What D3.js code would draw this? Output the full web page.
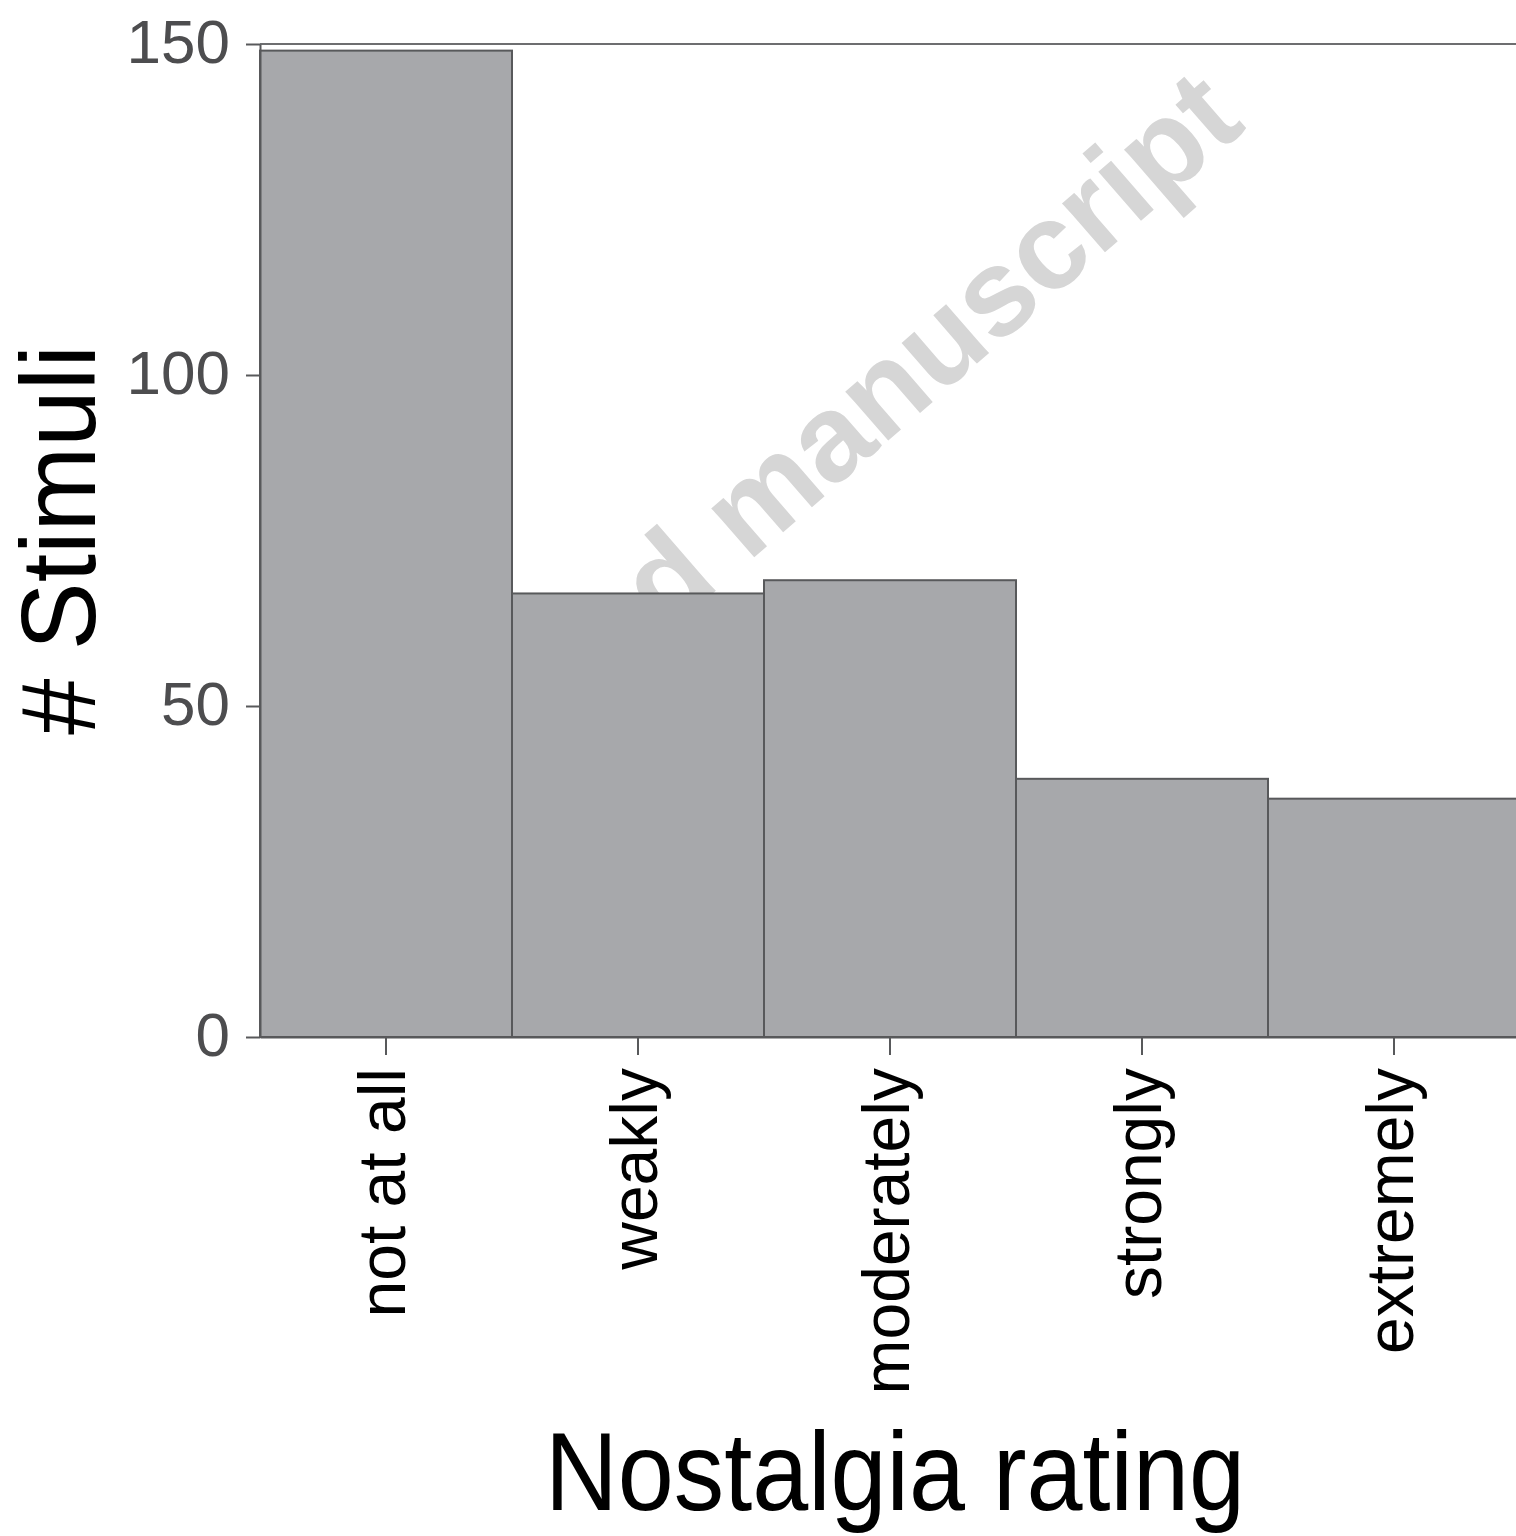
<!DOCTYPE html>
<html><head><meta charset="utf-8">
<script src="https://cdn.jsdelivr.net/npm/d3@7"></script>
<style>html,body{margin:0;padding:0;background:#fff;}svg{display:block;}</style>
</head><body>
<script>
const categories = ["not at all", "weakly", "moderately", "strongly", "extremely"];
const counts = [149, 67, 69, 39, 36];
const yTicks = [0, 50, 100, 150];
const xTitle = "Nostalgia rating";
const yTitle = "# Stimuli";
const watermark = "Accepted manuscript";

const W = 1516, H = 1536;
const m = {left: 260, right: -4, top: 44, bottom: 499};
const svg = d3.select("body").append("svg").attr("width", W).attr("height", H);

const x = d3.scaleBand().domain(categories).range([m.left, W - m.right]).padding(0);
const y = d3.scaleLinear().domain([0, 150]).range([H - m.bottom, m.top]);

// watermark, behind bars, clipped to the panel
svg.append("clipPath").attr("id", "pc").append("rect")
  .attr("x", m.left).attr("y", 0).attr("width", W - m.left).attr("height", y(0));
svg.append("g").attr("clip-path", "url(#pc)")
  .append("text")
  .attr("transform", "translate(1248,128) rotate(-41)")
  .attr("text-anchor", "end")
  .attr("font-family", "Liberation Sans, Arial, sans-serif")
  .attr("font-weight", "bold")
  .attr("font-size", 123)
  .attr("fill", "#d6d6d6")
  .text(watermark);

// top line
svg.append("line").attr("x1", m.left).attr("x2", W).attr("y1", y(150)).attr("y2", y(150))
  .attr("stroke", "#6d6e70").attr("stroke-width", 2);

// bars
svg.append("g").selectAll("rect").data(categories).join("rect")
  .attr("x", d => x(d)).attr("width", x.bandwidth())
  .attr("y", (d, i) => y(counts[i])).attr("height", (d, i) => y(0) - y(counts[i]))
  .attr("fill", "#a7a8ab").attr("stroke", "#58595b").attr("stroke-width", 2);

// y axis
const ya = svg.append("g").attr("transform", `translate(${m.left},0)`)
  .call(d3.axisLeft(y).tickValues(yTicks).tickSizeInner(14).tickSizeOuter(0).tickPadding(16));
ya.select(".domain").attr("stroke", "#58595b").attr("stroke-width", 2);
ya.selectAll(".tick line").attr("stroke", "#58595b").attr("stroke-width", 2);
ya.selectAll(".tick text").attr("font-family", "Liberation Sans, Arial, sans-serif")
  .attr("font-size", 62).attr("fill", "#4d4d4f").attr("dy", "0.3em");

// x axis
const xa = svg.append("g").attr("transform", `translate(0,${y(0)})`)
  .call(d3.axisBottom(x).tickSizeInner(18).tickSizeOuter(0).tickPadding(0));
xa.select(".domain").attr("stroke", "#58595b").attr("stroke-width", 2);
xa.selectAll(".tick line").attr("stroke", "#58595b").attr("stroke-width", 2);
xa.selectAll(".tick text")
  .attr("font-family", "Liberation Sans, Arial, sans-serif").attr("font-size", 66)
  .attr("fill", "#000")
  .attr("text-anchor", "end").attr("dy", null)
  .attr("transform", "translate(1,31) rotate(-90)");

// titles
svg.append("text").attr("x", 895).attr("y", 1510).attr("text-anchor", "middle")
  .attr("font-family", "Liberation Sans, Arial, sans-serif").attr("font-size", 112)
  .attr("textLength", 700).attr("lengthAdjust", "spacingAndGlyphs")
  .text(xTitle);
svg.append("text").attr("transform", "translate(95,540) rotate(-90)").attr("text-anchor", "middle")
  .attr("font-family", "Liberation Sans, Arial, sans-serif").attr("font-size", 105)
  .attr("textLength", 390).attr("lengthAdjust", "spacingAndGlyphs")
  .text(yTitle);
</script>
</body></html>
